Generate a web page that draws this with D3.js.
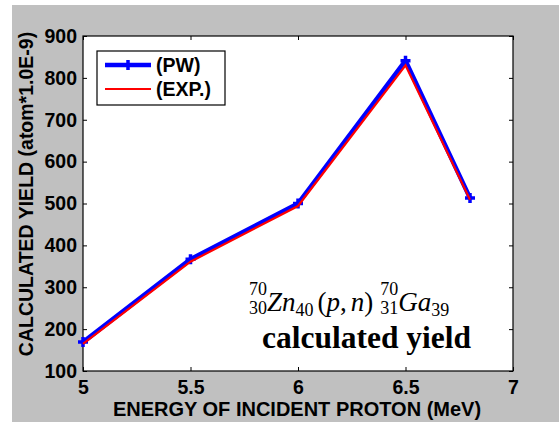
<!DOCTYPE html>
<html>
<head>
<meta charset="utf-8">
<script src="https://cdn.jsdelivr.net/npm/d3@7"></script>
<style>
  html, body { margin: 0; padding: 0; background: #ffffff; }
  svg { display: block; }
</style>
</head>
<body>
<svg id="chart" width="559" height="422"></svg>
<script>
// Proton energy (MeV) and yields (atom*1.0E-9)
const energy = [5, 5.5, 6, 6.5, 6.8];
const yieldPW = [169, 367, 500, 841, 513];
const yieldEXP = [165, 361, 494, 830, 509];
const xTicks = [5, 5.5, 6, 6.5, 7];
const yTicks = [100, 200, 300, 400, 500, 600, 700, 800, 900];
const seriesNames = ["(PW)", "(EXP.)"];

const svg = d3.select("#chart");
const W = 559, H = 422;
const plot = { left: 83, top: 36, right: 513, bottom: 371 };
const sans = "'Liberation Sans', Arial, Helvetica, sans-serif";
const serif = "'Liberation Serif', 'Times New Roman', serif";

// figure background
svg.append("rect").attr("x", 12).attr("y", 5).attr("width", W - 12).attr("height", H - 5)
  .attr("fill", "#c0c0c0");

const x = d3.scaleLinear().domain([5, 7]).range([plot.left, plot.right]);
const y = d3.scaleLinear().domain([100, 900]).range([plot.bottom, plot.top]);

// axes background
svg.append("rect").attr("x", plot.left).attr("y", plot.top)
  .attr("width", plot.right - plot.left).attr("height", plot.bottom - plot.top)
  .attr("fill", "#ffffff");

// inward ticks on all four sides
const tl = 4;
const bottomAxis = d3.axisBottom(x).tickValues(xTicks).tickSize(-tl).tickPadding(9)
  .tickFormat(d => String(d));
const topAxis = d3.axisTop(x).tickValues(xTicks).tickSize(-tl).tickFormat("");
const leftAxis = d3.axisLeft(y).tickValues(yTicks).tickSize(-tl).tickPadding(6)
  .tickFormat(d => String(d));
const rightAxis = d3.axisRight(y).tickValues(yTicks).tickSize(-tl).tickFormat("");

function styleAxis(g) {
  g.select(".domain").remove();
  g.selectAll(".tick line").attr("stroke", "#000").attr("stroke-width", 1);
  g.selectAll(".tick text").attr("fill", "#000")
    .style("font-family", sans).style("font-size", "19.5px").style("font-weight", "bold");
}
svg.append("g").attr("transform", `translate(0,${plot.bottom})`).call(bottomAxis).call(styleAxis);
svg.append("g").attr("transform", `translate(0,${plot.top})`).call(topAxis).call(styleAxis);
svg.append("g").attr("transform", `translate(${plot.left},0)`).call(leftAxis).call(styleAxis);
svg.append("g").attr("transform", `translate(${plot.right},0)`).call(rightAxis).call(styleAxis);

// box
svg.append("rect").attr("x", plot.left).attr("y", plot.top)
  .attr("width", plot.right - plot.left).attr("height", plot.bottom - plot.top)
  .attr("fill", "none").attr("stroke", "#000").attr("stroke-width", 1.2);

// series
const line = d3.line().x(d => x(d[0])).y(d => y(d[1]));
const pw = energy.map((e, i) => [e, yieldPW[i]]);
const exp = energy.map((e, i) => [e, yieldEXP[i]]);

svg.append("path").datum(pw).attr("d", line).attr("fill", "none")
  .attr("stroke", "#0000ff").attr("stroke-width", 4.5).attr("stroke-linejoin", "miter");
const ms = 5;
svg.append("g").selectAll("path").data(pw).join("path")
  .attr("d", d => `M${x(d[0]) - ms},${y(d[1])}H${x(d[0]) + ms}M${x(d[0])},${y(d[1]) - ms}V${y(d[1]) + ms}`)
  .attr("stroke", "#0000ff").attr("stroke-width", 3.5);
svg.append("path").datum(exp).attr("d", line).attr("fill", "none")
  .attr("stroke", "#ff0000").attr("stroke-width", 2.2);

// legend
const lg = svg.append("g");
lg.append("rect").attr("x", 97).attr("y", 51).attr("width", 128).attr("height", 54)
  .attr("fill", "#ffffff").attr("stroke", "#000").attr("stroke-width", 1.2);
const legendRows = [
  { name: seriesNames[0], color: "#0000ff", w: 4.5, marker: true, cy: 65 },
  { name: seriesNames[1], color: "#ff0000", w: 2.2, marker: false, cy: 89 }
];
legendRows.forEach(r => {
  lg.append("line").attr("x1", 105).attr("x2", 151).attr("y1", r.cy).attr("y2", r.cy)
    .attr("stroke", r.color).attr("stroke-width", r.w);
  if (r.marker) {
    lg.append("path").attr("d", `M${128 - ms},${r.cy}H${128 + ms}M128,${r.cy - ms}V${r.cy + ms}`)
      .attr("stroke", r.color).attr("stroke-width", 3.5);
  }
  lg.append("text").attr("x", 156).attr("y", r.cy + 7).text(r.name)
    .style("font-family", sans).style("font-size", "19.5px").style("font-weight", "bold");
});

// axis labels
svg.append("text").attr("x", (plot.left + plot.right) / 2 - 1).attr("y", 416)
  .attr("text-anchor", "middle").text("ENERGY OF INCIDENT PROTON (MeV)")
  .style("font-family", sans).style("font-size", "20px").style("font-weight", "bold");
svg.append("text").attr("transform", "translate(33,194) rotate(-90)")
  .attr("text-anchor", "middle").text("CALCULATED YIELD (atom*1.0E-9)")
  .style("font-family", sans).style("font-size", "19.5px").style("font-weight", "bold");

// reaction annotation
const M = 27, S = 18, base = 311;
const ann = svg.append("text").attr("x", 249).attr("y", base)
  .style("font-family", serif).style("font-size", M + "px");
function piece(txt, opts) {
  const t = ann.append("tspan").text(txt);
  if (opts.size) t.style("font-size", opts.size + "px");
  if (opts.italic) t.style("font-style", "italic");
  if (opts.y != null) t.attr("y", opts.y);
  if (opts.dx != null) t.attr("dx", opts.dx);
  return t;
}
piece("70", { size: S, y: base - 16 });
piece("30", { size: S, y: base + 3, dx: -S });
piece("Zn", { italic: true, y: base });
piece("40", { size: S, y: base + 5 });
piece("(", { y: base, dx: 4 });
piece("p", { italic: true });
piece(",", {});
piece("n", { italic: true, dx: 4 });
piece(")", {});
piece("70", { size: S, y: base - 16, dx: 7 });
piece("31", { size: S, y: base + 3, dx: -S });
piece("Ga", { italic: true, y: base });
piece("39", { size: S, y: base + 5 });

svg.append("text").attr("x", 262).attr("y", 348).text("calculated yield")
  .style("font-family", serif).style("font-size", "31.5px").style("font-weight", "bold");
</script>
</body>
</html>
